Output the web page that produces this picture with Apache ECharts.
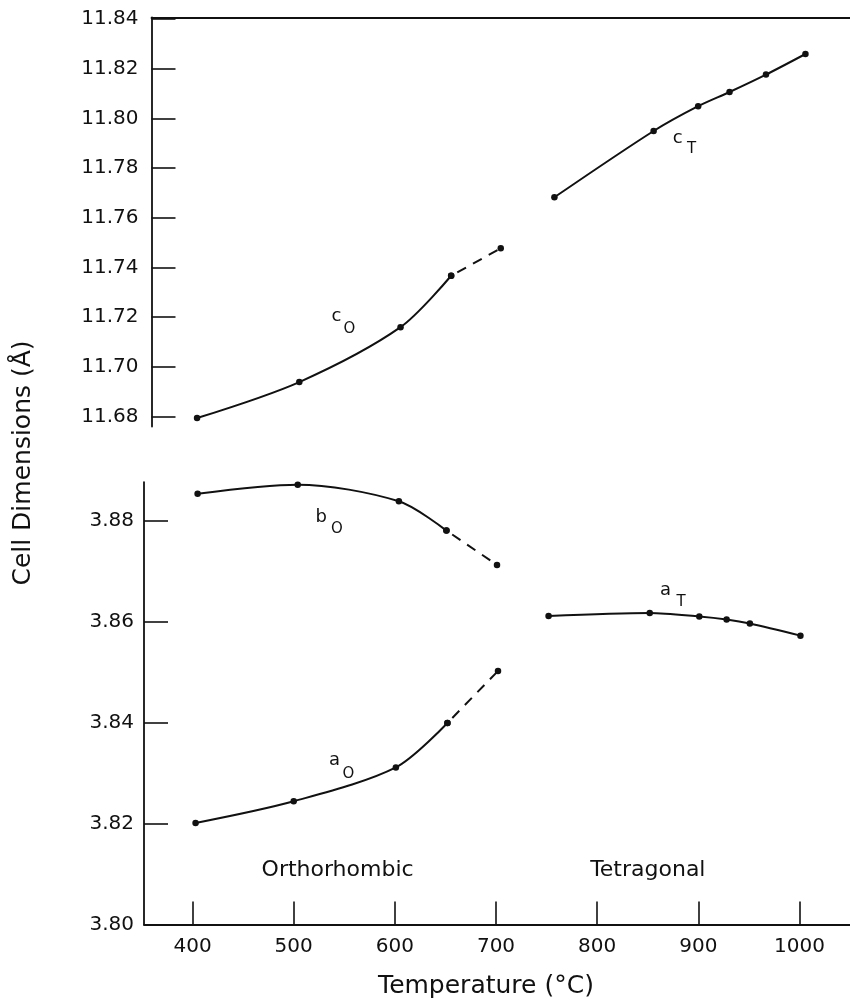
<!DOCTYPE html>
<html>
<head>
<meta charset="utf-8">
<script src="https://cdn.jsdelivr.net/npm/echarts@6/dist/echarts.min.js"></script>
<style>
  html, body { margin: 0; padding: 0; background: #fff; }
  #chart { width: 850px; height: 1002px; }
</style>
</head>
<body>
<div id="chart"></div>
<script>
// Cell dimensions of the orthorhombic (O) and tetragonal (T) phases vs temperature
const tempCO = [405, 506, 606, 656, 705];
const cO     = [11.6794, 11.6939, 11.7160, 11.7367, 11.7478];
const tempCT = [758, 856, 900, 931, 967, 1006];
const cT     = [11.7683, 11.7950, 11.8050, 11.8107, 11.8177, 11.8260];
const tempBO = [405, 504, 604, 651, 701];
const bO     = [3.8853, 3.8871, 3.8838, 3.8780, 3.8712];
const tempAO = [403, 500, 601, 652, 702];
const aO     = [3.8201, 3.8244, 3.8311, 3.8399, 3.8502];
const tempAT = [752, 852, 901, 928, 951, 1001];
const aT     = [3.8611, 3.8617, 3.8610, 3.8604, 3.8596, 3.8572];

// Axis tick labels
const tempTicks  = [400, 500, 600, 700, 800, 900, 1000];
const upperTicks = [11.68, 11.70, 11.72, 11.74, 11.76, 11.78, 11.80, 11.82, 11.84];
const lowerTicks = [3.80, 3.82, 3.84, 3.86, 3.88];

const INK = '#111';
const FONT = 'DejaVu Sans';

function pairs(xs, ys, from, to) {
  const out = [];
  for (let i = from; i <= to; i++) out.push([xs[i], ys[i]]);
  return out;
}

function curve(name, xs, ys, from, to, grid, dashed) {
  return {
    name: name,
    type: 'line',
    xAxisIndex: grid,
    yAxisIndex: grid,
    data: pairs(xs, ys, from, to),
    smooth: dashed ? false : 0.3,
    symbol: 'circle',
    symbolSize: 6.5,
    showSymbol: true,
    itemStyle: { color: INK },
    lineStyle: dashed
      ? { color: INK, width: 2, type: [10, 8], dashOffset: 11 }
      : { color: INK, width: 2 },
    emphasis: { disabled: true },
    silent: true,
    z: 3
  };
}

const axisLineStyle = { color: INK, width: 1.8 };
const tickLabelStyle = { color: INK, fontFamily: FONT, fontSize: 20 };

const chart = echarts.init(document.getElementById('chart'), null, { renderer: 'canvas' });

chart.setOption({
  backgroundColor: '#fff',
  animation: false,
  grid: [
    { left: 151.5, top: 17.5, width: 699.5, height: 409 },
    { left: 144, top: 482.1, width: 707.6, height: 442.4 }
  ],
  xAxis: [
    {
      gridIndex: 0, type: 'value', position: 'top', min: 360, max: 1050,
      axisLine: { show: true, onZero: false, lineStyle: axisLineStyle },
      axisTick: { show: false }, axisLabel: { show: false }, splitLine: { show: false }
    },
    {
      gridIndex: 1, type: 'value', position: 'bottom', min: 352, max: 1050,
      axisLine: { show: true, onZero: false, lineStyle: axisLineStyle },
      axisTick: { show: true, inside: true, length: 23, customValues: tempTicks, lineStyle: { color: INK, width: 1.6 } },
      axisLabel: { show: true, customValues: tempTicks, margin: 12, formatter: v => String(v), ...tickLabelStyle },
      splitLine: { show: false }
    }
  ],
  yAxis: [
    {
      gridIndex: 0, type: 'value', min: 11.676, max: 11.8407,
      axisLine: { show: true, onZero: false, lineStyle: axisLineStyle },
      axisTick: { show: true, inside: true, length: 24, customValues: upperTicks, lineStyle: { color: INK, width: 1.6 } },
      axisLabel: { show: true, customValues: upperTicks, margin: 13, formatter: v => v.toFixed(2), ...tickLabelStyle },
      splitLine: { show: false }
    },
    {
      gridIndex: 1, type: 'value', min: 3.80, max: 3.8876,
      axisLine: { show: true, onZero: false, lineStyle: axisLineStyle },
      axisTick: { show: true, inside: true, length: 24, customValues: lowerTicks.slice(1), lineStyle: { color: INK, width: 1.6 } },
      axisLabel: { show: true, customValues: lowerTicks, margin: 10, formatter: v => v.toFixed(2), ...tickLabelStyle },
      splitLine: { show: false }
    }
  ],
  series: [
    curve('cO', tempCO, cO, 0, 3, 0, false),
    curve('cO ext', tempCO, cO, 3, 4, 0, true),
    curve('cT', tempCT, cT, 0, 5, 0, false),
    curve('bO', tempBO, bO, 0, 3, 1, false),
    curve('bO ext', tempBO, bO, 3, 4, 1, true),
    curve('aO', tempAO, aO, 0, 3, 1, false),
    curve('aO ext', tempAO, aO, 3, 4, 1, true),
    curve('aT', tempAT, aT, 0, 5, 1, false)
  ]
});

// Curve and phase labels, anchored in data coordinates of their panel
const notes = [
  { text: 'c', grid: 0, at: [542.7, 11.7203], size: 18 },
  { text: 'O', grid: 0, at: [555.6, 11.7154], size: 15 },
  { text: 'c', grid: 0, at: [879.7, 11.7921], size: 18 },
  { text: 'T', grid: 0, at: [893.4, 11.7879], size: 15 },
  { text: 'b', grid: 1, at: [527.3, 3.8807], size: 18 },
  { text: 'O', grid: 1, at: [542.6, 3.8782], size: 15 },
  { text: 'a', grid: 1, at: [540.4, 3.8325], size: 18 },
  { text: 'O', grid: 1, at: [554.1, 3.8298], size: 15 },
  { text: 'a', grid: 1, at: [867.6, 3.8661], size: 18 },
  { text: 'T', grid: 1, at: [882.9, 3.8639], size: 15 },
  { text: 'Orthorhombic', grid: 1, at: [543.4, 3.8107], size: 22 },
  { text: 'Tetragonal', grid: 1, at: [850.1, 3.8107], size: 22 }
];

function textEl(text, x, y, size, rotation) {
  return {
    type: 'text', x: x, y: y, rotation: rotation || 0, silent: true, z: 10,
    style: {
      text: text, fill: INK, fontFamily: FONT, fontSize: size,
      align: 'center', verticalAlign: 'middle',
      textAlign: 'center', textVerticalAlign: 'middle'
    }
  };
}

const graphics = notes.map(n => {
  const p = chart.convertToPixel({ gridIndex: n.grid }, n.at);
  return textEl(n.text, p[0], p[1], n.size, 0);
});
graphics.push(textEl('Temperature (°C)', 486, 986, 25, 0));
graphics.push(textEl('Cell Dimensions (Å)', 23, 463, 25, Math.PI / 2));

chart.setOption({ graphic: graphics });
</script>
</body>
</html>
